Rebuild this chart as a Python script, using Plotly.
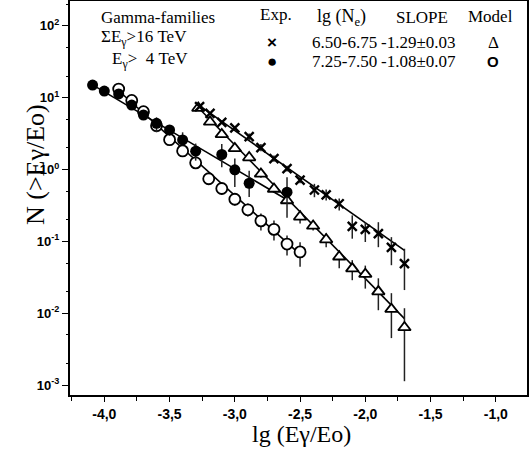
import plotly.graph_objects as go

# ---- data ----
# Exp., lg(Ne) 6.50-6.75 (crosses)
exp1_x = [-3.27, -3.19, -3.10, -3.00, -2.89, -2.80, -2.70, -2.60, -2.50, -2.39, -2.30, -2.20, -2.10, -2.00, -1.90, -1.80, -1.70]
exp1_y = [7.5, 6.05, 4.54, 3.81, 2.87, 2.02, 1.42, 1.03, 0.713, 0.519, 0.445, 0.334, 0.162, 0.147, 0.128, 0.0826, 0.049]
exp1_eh = [0, 0, 0, 0, 0.30, 0.25, 0.15, 0.10, 0.08, 0.114, 0.082, 0.061, 0.068, 0.038, 0.057, 0.032, 0.030]
exp1_el = [0, 0, 0, 0, 0.28, 0.22, 0.14, 0.09, 0.07, 0.107, 0.074, 0.064, 0.053, 0.049, 0.045, 0.036, 0.028]

# Model, lg(Ne) 6.50-6.75 (triangles)
mod1_x = [-3.28, -3.19, -3.10, -3.00, -2.89, -2.80, -2.70, -2.60, -2.50, -2.40, -2.30, -2.20, -2.10, -2.00, -1.90, -1.80, -1.70]
mod1_y = [7.19, 4.6, 3.09, 1.97, 1.47, 0.871, 0.536, 0.371, 0.22, 0.164, 0.106, 0.0611, 0.0418, 0.035, 0.020, 0.0114, 0.00633]
mod1_eh = [0, 0, 0, 0, 0, 0.10, 0.06, 0.04, 0.050, 0.032, 0.023, 0.014, 0.013, 0.011, 0.0106, 0.0076, 0.0054]
mod1_el = [0, 0, 0, 0, 0, 0.10, 0.06, 0.04, 0.042, 0.022, 0.023, 0.019, 0.013, 0.013, 0.0090, 0.0069, 0.0052]

# Exp., lg(Ne) 7.25-7.50 (filled circles)
exp2_x = [-4.09, -4.00, -3.89, -3.79, -3.70, -3.60, -3.50, -3.40, -3.30, -3.10, -3.00, -2.89, -2.60]
exp2_y = [15.0, 12.4, 11.3, 7.9, 5.75, 4.4, 3.56, 2.59, 1.80, 1.62, 0.99, 0.645, 0.484]
exp2_eh = [0, 0, 0, 0, 0, 0.93, 0.52, 0.71, 0.50, 0.65, 0.43, 0.32, 0.30]
exp2_el = [0, 0, 0, 0, 0, 1.10, 0.59, 0.44, 0.47, 0.54, 0.42, 0.23, 0.27]

# Model, lg(Ne) 7.25-7.50 (open circles)
mod2_x = [-3.89, -3.79, -3.70, -3.60, -3.50, -3.40, -3.30, -3.20, -3.10, -3.00, -2.90, -2.80, -2.70, -2.60, -2.50]
mod2_y = [13.2, 9.17, 6.39, 4.08, 2.61, 1.82, 1.24, 0.745, 0.545, 0.386, 0.275, 0.193, 0.147, 0.0918, 0.0714]
mod2_eh = [0, 0, 0, 0.4, 0.25, 0.18, 0.23, 0.135, 0.095, 0.078, 0.062, 0.052, 0.049, 0.029, 0.026]
mod2_el = [0, 0, 0, 0.4, 0.25, 0.18, 0.21, 0.105, 0.095, 0.070, 0.053, 0.051, 0.044, 0.028, 0.027]

# fitted straight lines (end points)
fit_exp1_x = [-3.29, -1.70]
fit_exp1_y = [8.2, 0.075]
fit_mod1_x = [-3.29, -1.70]
fit_mod1_y = [7.6, 0.0084]
fit_exp2_x = [-4.09, -2.60]
fit_exp2_y = [15.1, 0.38]
fit_mod2_x = [-3.89, -2.50]
fit_mod2_y = [12.5, 0.066]

x_tickvals = [-4.0, -3.5, -3.0, -2.5, -2.0, -1.5, -1.0]
x_ticktext = ["-4,0", "-3,5", "-3,0", "-2,5", "-2,0", "-1,5", "-1,0"]
y_tickvals = [1e2, 1e1, 1e0, 1e-1, 1e-2, 1e-3]
y_ticktext = ["10<sup>2</sup>", "10<sup>1</sup>", "10<sup>0</sup>", "10<sup>-1</sup>", "10<sup>-2</sup>", "10<sup>-3</sup>"]

SERIF = "Liberation Serif"
SANS = "Liberation Sans"

fig = go.Figure()

def add_line(xs, ys):
    fig.add_trace(go.Scatter(x=xs, y=ys, mode="lines",
                             line=dict(color="black", width=1.6), showlegend=False, hoverinfo="skip"))

def add_pts(xs, ys, eh, el, symbol, size, lw, fill):
    fig.add_trace(go.Scatter(
        x=xs, y=ys, mode="markers", showlegend=False,
        marker=dict(symbol=symbol, size=size, color=fill,
                    line=dict(color="black", width=lw)),
        error_y=dict(type="data", symmetric=False, array=eh, arrayminus=el,
                     color="#222222", thickness=1.5, width=0),
    ))

add_line(fit_exp1_x, fit_exp1_y)
add_line(fit_mod1_x, fit_mod1_y)
add_line(fit_exp2_x, fit_exp2_y)
add_line(fit_mod2_x, fit_mod2_y)

add_pts(mod2_x, mod2_y, mod2_eh, mod2_el, "circle", 11, 1.8, "white")
add_pts(mod1_x, mod1_y, mod1_eh, mod1_el, "triangle-up", 11, 1.8, "white")
add_pts(exp2_x, exp2_y, exp2_eh, exp2_el, "circle", 11, 0, "black")
add_pts(exp1_x, exp1_y, exp1_eh, exp1_el, "x-thin", 9, 2.4, "black")

# plot-area pixel frame
L, R, T, B = 70, 527, 1, 395
W, H = 529, 454

def px(x):
    return (x - L) / (R - L)

def py(y):
    return 1 - (y - T) / (B - T)

ann = []
def text(x, y, s, size=16, family=SERIF, anchor="left", weight="normal", angle=0):
    ann.append(dict(x=px(x), y=py(y), xref="paper", yref="paper", text=s, showarrow=False,
                    xanchor=anchor, yanchor="middle", textangle=angle,
                    font=dict(family=family, size=size, color="black", weight=weight)))

text(99, 17, "Gamma-families", size=17)
text(99, 38, "ΣE<sub>γ</sub>>16 TeV", size=17)
text(110, 60, "E<sub>γ</sub>>  4 TeV", size=17)
text(258, 15, "Exp.", size=17)
text(341, 18, "lg (N<sub>e</sub>)", size=18, anchor="center")
text(422, 17, "SLOPE", size=17, anchor="center")
text(490, 16, "Model", size=17, anchor="center")
text(272, 42, "×", size=17, family=SANS, anchor="center", weight="bold")
text(272, 62, "●", size=17, family=SANS, anchor="center")
text(344, 42, "6.50-6.75", size=17, anchor="center")
text(344, 61, "7.25-7.50", size=17, anchor="center")
text(418, 42, "-1.29±0.03", size=17, anchor="center")
text(418, 61, "-1.08±0.07", size=17, anchor="center")
text(493, 42, "Δ", size=17, anchor="center")
text(493, 62, "O", size=15, family=SANS, anchor="center", weight="bold")

# axis titles
text(301, 434, "lg (Eγ/Eo)", size=24, anchor="center")
text(35, 165, "N (>Eγ/Eo)", size=26, anchor="center", angle=-90)

fig.update_layout(
    width=W, height=H,
    margin=dict(l=L, r=W - R, t=T, b=H - B, autoexpand=False),
    paper_bgcolor="white", plot_bgcolor="white",
    annotations=ann,
    xaxis=dict(range=[-4.263, -0.761], tickvals=x_tickvals, ticktext=x_ticktext,
               automargin=False,
               ticks="outside", ticklen=5, tickwidth=1.2, tickcolor="black",
               minor=dict(dtick=0.25, tick0=0, ticks="outside", ticklen=4, tickcolor="black"),
               showline=True, linewidth=2, linecolor="black", mirror=True,
               showgrid=False, zeroline=False,
               tickfont=dict(family=SANS, size=14, color="black", weight="bold")),
    yaxis=dict(type="log", range=[-3.139, 2.347], tickvals=y_tickvals, ticktext=y_ticktext,
               automargin=False,
               ticks="outside", ticklen=6, tickwidth=1.2, tickcolor="black",
               minor=dict(ticks="outside", ticklen=2, tickcolor="black", showgrid=False),
               showline=True, linewidth=2, linecolor="black", mirror=True,
               showgrid=False, zeroline=False,
               tickfont=dict(family=SANS, size=13, color="black", weight="bold")),
)

fig.write_html(
    "out.html",
    config={"responsive": False, "displayModeBar": False},
    post_script="document.body.style.margin='0';document.body.style.overflow='hidden';",
)
